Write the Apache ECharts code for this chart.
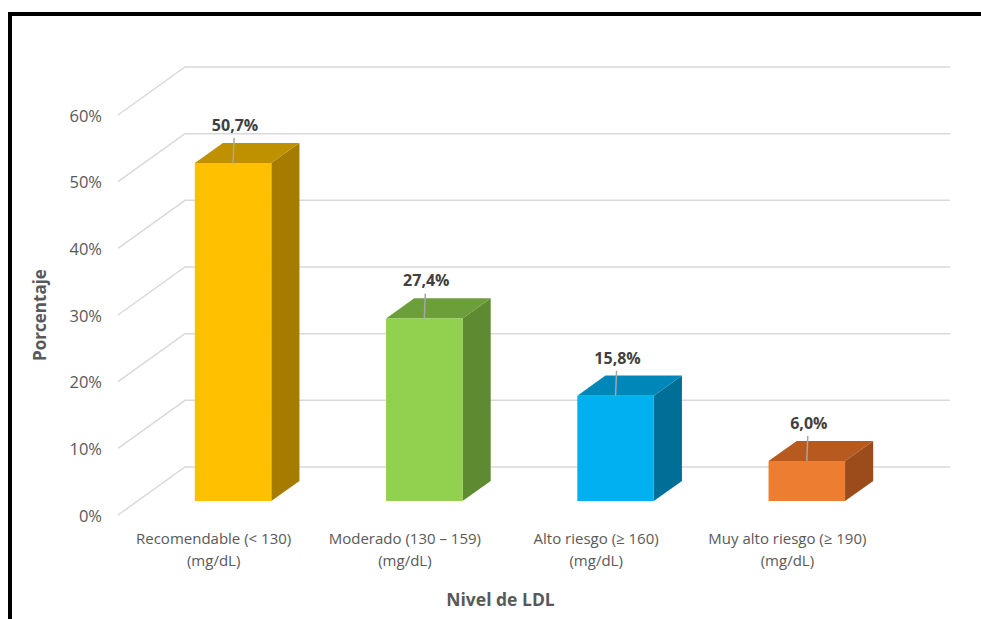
<!DOCTYPE html>
<html>
<head>
<meta charset="utf-8">
<script src="https://cdn.jsdelivr.net/npm/echarts@6/dist/echarts.min.js"></script>
<style>
  html, body { margin: 0; padding: 0; background: #fff; }
  #chart { width: 981px; height: 619px; }
</style>
</head>
<body>
<div id="chart"></div>
<script>
// LDL levels and share of people in each level (%)
const categories = [
  'Recomendable (< 130)\n(mg/dL)',
  'Moderado (130 – 159)\n(mg/dL)',
  'Alto riesgo (≥ 160)\n(mg/dL)',
  'Muy alto riesgo (≥ 190)\n(mg/dL)'
];
const values = [50.7, 27.4, 15.8, 6.0];
const yTicks = [0, 10, 20, 30, 40, 50, 60];

// Face colours of each column: front, top, side
const frontColors = ['#FFC000', '#92D050', '#00B0F0', '#ED7D31'];
const topColors   = ['#BF9000', '#6C9E3A', '#0087BA', '#B65A1F'];
const sideColors  = ['#A57C00', '#5E8A31', '#006F98', '#9B4C1A'];

const FONT = "'Open Sans', 'Liberation Sans', sans-serif";
const TEXT = '#595959';

// Oblique depth of the plot box (front edge -> back wall), in pixels
const DEPTH = [67, -48];
const BAR_FRONT = 0.29, BAR_BACK = 0.71;

const fmt = v => v.toFixed(1).replace('.', ',') + '%';

const chart = echarts.init(document.getElementById('chart'), null, { renderer: 'svg' });

chart.setOption({
  backgroundColor: '#ffffff',
  animation: false,
  graphic: [
    { type: 'line', shape: { x1: 10, y1: 12, x2: 10, y2: 625 }, style: { stroke: '#000', lineWidth: 4 } },
    { type: 'line', shape: { x1: 8, y1: 14, x2: 990, y2: 14 }, style: { stroke: '#000', lineWidth: 4 } }
  ],
  grid: { left: 118, top: 115, width: 765, height: 400, containLabel: false, outerBoundsMode: 'none' },
  xAxis: {
    type: 'category',
    data: categories,
    axisLine: { show: false },
    axisTick: { show: false },
    splitLine: { show: false },
    axisLabel: {
      interval: 0, color: TEXT, fontFamily: FONT, fontSize: 15,
      lineHeight: 22, margin: 12
    },
    name: 'Nivel de LDL',
    nameLocation: 'middle',
    nameGap: 75,
    nameTextStyle: { color: TEXT, fontFamily: FONT, fontSize: 17.5, fontWeight: 'bold' }
  },
  yAxis: {
    type: 'value',
    min: 0, max: 60, interval: 10,
    axisLine: { show: false },
    axisTick: { show: false },
    splitLine: { show: false },
    axisLabel: { formatter: '{value}%', color: TEXT, fontFamily: FONT, fontSize: 16.5, margin: 16 },
    name: 'Porcentaje',
    nameLocation: 'middle',
    nameGap: 70,
    nameTextStyle: { color: TEXT, fontFamily: FONT, fontSize: 17, fontWeight: 'bold' }
  },
  series: [
    {
      // side and back wall gridlines
      type: 'custom',
      silent: true,
      z: 1,
      data: yTicks.map(v => [0, v]),
      renderItem: function (params, api) {
        const cs = params.coordSys;
        const y = api.coord([0, api.value(1)])[1];
        const L = cs.x, R = cs.x + cs.width;
        return {
          type: 'polyline',
          shape: { points: [[L, y], [L + DEPTH[0], y + DEPTH[1]], [R + DEPTH[0], y + DEPTH[1]]] },
          style: { stroke: '#D9D9D9', lineWidth: 1.5, fill: null }
        };
      }
    },
    {
      // 3D columns with value labels
      type: 'custom',
      z: 2,
      data: values.map((v, i) => [i, v]),
      renderItem: function (params, api) {
        const i = params.dataIndex;
        const v = api.value(1);
        const top = api.coord([i, v]);
        const base = api.coord([i, 0]);
        const w = api.size([1, 0])[0] * 0.4;
        const fx = DEPTH[0] * BAR_FRONT, fy = DEPTH[1] * BAR_FRONT;
        const bx = DEPTH[0] * (BAR_BACK - BAR_FRONT), by = DEPTH[1] * (BAR_BACK - BAR_FRONT);
        const x0 = top[0] - w / 2 + fx, x1 = top[0] + w / 2 + fx;
        const yt = top[1] + fy, yb = base[1] + fy;
        const cx = top[0] + fx;
        return {
          type: 'group',
          children: [
            { type: 'polygon', shape: { points: [[x1, yt], [x1 + bx, yt + by], [x1 + bx, yb + by], [x1, yb]] },
              style: { fill: sideColors[i] } },
            { type: 'polygon', shape: { points: [[x0, yt], [x1, yt], [x1 + bx, yt + by], [x0 + bx, yt + by]] },
              style: { fill: topColors[i] } },
            { type: 'rect', shape: { x: x0, y: yt, width: x1 - x0, height: yb - yt },
              style: { fill: frontColors[i] } },
            { type: 'line', shape: { x1: cx, y1: yt, x2: cx + 1, y2: yt - 25 },
              style: { stroke: '#A6A6A6', lineWidth: 1.5 } },
            { type: 'text', x: cx + 2, y: yt - 38,
              style: { text: fmt(v), fill: '#404040', font: 'bold 16px ' + FONT,
                       align: 'center', verticalAlign: 'middle' } }
          ]
        };
      }
    }
  ]
});
</script>
</body>
</html>
